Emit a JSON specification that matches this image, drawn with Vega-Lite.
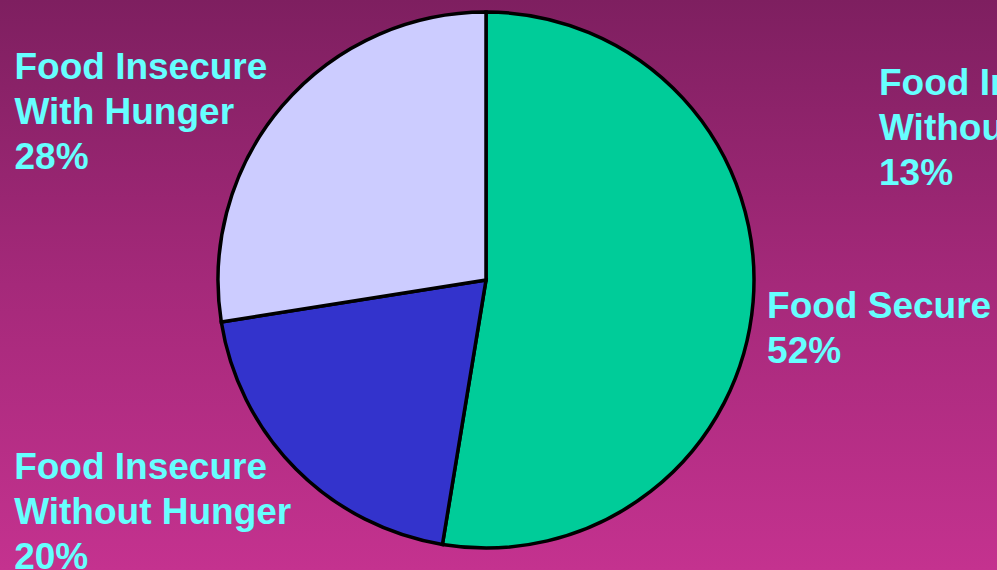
{
  "$schema": "https://vega.github.io/schema/vega-lite/v6.json",
  "width": 997,
  "height": 570,
  "autosize": {"type": "none"},
  "padding": 0,
  "background": "#a0286f",
  "config": {"view": {"stroke": null}},
  "data": {
    "values": [
      {"category": "Food Secure", "value": 52.6, "rank": 1, "label": "Food Secure\n52%"},
      {"category": "Food Insecure Without Hunger", "value": 19.9, "rank": 2, "label": "Food Insecure\nWithout Hunger\n20%"},
      {"category": "Food Insecure With Hunger", "value": 27.5, "rank": 3, "label": "Food Insecure\nWith Hunger\n28%"},
      {"category": "Food Insecure Without Hunger (other)", "value": 0, "rank": 4, "label": "Food Insecure\nWithout Hunger\n13%"}
    ]
  },
  "layer": [
    {
      "mark": {
        "type": "rect",
        "color": {
          "gradient": "linear",
          "x1": 0, "y1": 0, "x2": 0, "y2": 1,
          "stops": [
            {"offset": 0, "color": "#7e1f60"},
            {"offset": 0.5, "color": "#a5297a"},
            {"offset": 1, "color": "#c4328f"}
          ]
        }
      },
      "encoding": {
        "x": {"value": 0},
        "x2": {"value": "width"},
        "y": {"value": 0},
        "y2": {"value": "height"}
      }
    },
    {
      "transform": [{"filter": "datum.value > 0"}],
      "mark": {"type": "arc", "outerRadius": 268, "stroke": "#000000", "strokeWidth": 3.5},
      "encoding": {
        "theta": {"field": "value", "type": "quantitative", "stack": true},
        "order": {"field": "rank", "type": "quantitative"},
        "x": {"value": 486},
        "y": {"value": 280},
        "color": {
          "field": "category",
          "type": "nominal",
          "scale": {
            "domain": ["Food Secure", "Food Insecure Without Hunger", "Food Insecure With Hunger"],
            "range": ["#00cc99", "#3333cc", "#ccccff"]
          },
          "legend": null
        }
      }
    },
    {
      "transform": [{"filter": "datum.rank == 1"}],
      "mark": {"type": "text", "align": "left", "baseline": "alphabetic", "font": "Liberation Sans", "fontWeight": "bold", "fontSize": 37, "lineHeight": 45, "lineBreak": "\n", "color": "#66ffff", "radius": 282, "dx": 0, "dy": 15},
      "encoding": {
        "theta": {"field": "value", "type": "quantitative", "stack": true, "scale": {"domain": [0, 100]}},
        "x": {"value": 486},
        "y": {"value": 280},
        "text": {"field": "label"}
      }
    },
    {
      "transform": [{"filter": "datum.rank <= 2"}, {"stack": "value", "groupby": [], "sort": [{"field": "rank"}], "as": ["v0", "v1"]}, {"filter": "datum.rank == 2"}],
      "mark": {"type": "text", "align": "left", "baseline": "alphabetic", "font": "Liberation Sans", "fontWeight": "bold", "fontSize": 37, "lineHeight": 45, "lineBreak": "\n", "color": "#66ffff", "radius": 282, "dx": -426, "dy": -79},
      "encoding": {
        "theta": {"field": "v0", "type": "quantitative", "scale": {"domain": [0, 100]}},
        "x": {"value": 486},
        "y": {"value": 280},
        "text": {"field": "label"}
      }
    },
    {
      "transform": [{"filter": "datum.rank <= 3"}, {"stack": "value", "groupby": [], "sort": [{"field": "rank"}], "as": ["v0", "v1"]}, {"filter": "datum.rank == 3"}],
      "mark": {"type": "text", "align": "left", "baseline": "alphabetic", "font": "Liberation Sans", "fontWeight": "bold", "fontSize": 37, "lineHeight": 45, "lineBreak": "\n", "color": "#66ffff", "radius": 282, "dx": -193, "dy": -245},
      "encoding": {
        "theta": {"field": "v0", "type": "quantitative", "scale": {"domain": [0, 100]}},
        "x": {"value": 486},
        "y": {"value": 280},
        "text": {"field": "label"}
      }
    },
    {
      "transform": [{"stack": "value", "groupby": [], "sort": [{"field": "rank"}], "as": ["v0", "v1"]}, {"filter": "datum.rank == 4"}],
      "mark": {"type": "text", "align": "left", "baseline": "alphabetic", "font": "Liberation Sans", "fontWeight": "bold", "fontSize": 37, "lineHeight": 45, "lineBreak": "\n", "color": "#66ffff", "radius": 282, "dx": 393, "dy": 97},
      "encoding": {
        "theta": {"field": "v0", "type": "quantitative", "scale": {"domain": [0, 100]}},
        "x": {"value": 486},
        "y": {"value": 280},
        "text": {"field": "label"}
      }
    }
  ]
}
